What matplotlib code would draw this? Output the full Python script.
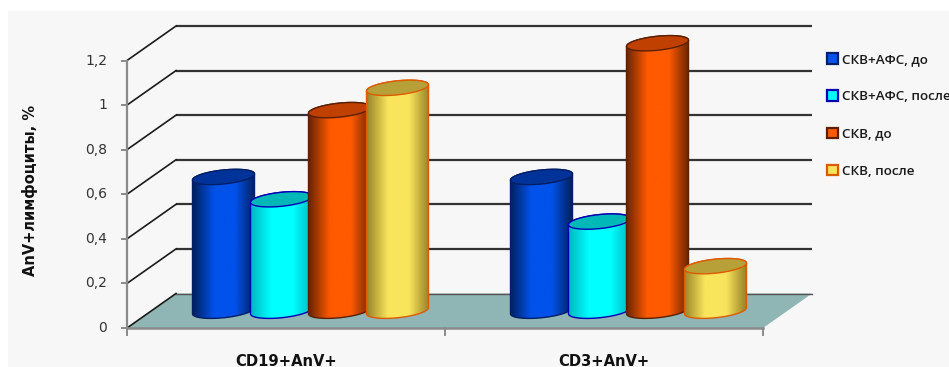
import numpy as np
import matplotlib
matplotlib.use("Agg")
import matplotlib.pyplot as plt
from matplotlib.colors import LinearSegmentedColormap
from matplotlib.patches import Rectangle, Polygon, PathPatch
from matplotlib.path import Path

categories = ["CD19+AnV+", "CD3+AnV+"]
series_names = ["СКВ+АФС, до", "СКВ+АФС, после", "СКВ, до", "СКВ, после"]
skv_afs_before = [0.6, 0.6]
skv_afs_after = [0.5, 0.4]
skv_before = [0.9, 1.2]
skv_after = [1.0, 0.2]
yticks = [0, 0.2, 0.4, 0.6, 0.8, 1.0, 1.2]
ytick_labels = ["0", "0,2", "0,4", "0,6", "0,8", "1", "1,2"]

# (side shade, centre, top cap, outline)
styles = [
    ("#00205f", "#0052ea", "#003399", "#001f66"),
    ("#00b4c0", "#00ffff", "#00b8b8", "#0000b4"),
    ("#6a2400", "#ff5a00", "#bf4000", "#5a2000"),
    ("#9a8428", "#f9e55c", "#b8a038", "#dd5a00"),
]

W, H = 949, 367
fig = plt.figure(figsize=(W / 100, H / 100), dpi=100, facecolor="white")
fig.patches.append(Rectangle((8 / W, 0), 1 - 8 / W, 1 - 11 / H, transform=fig.transFigure,
                             facecolor="#f7f7f7", edgecolor="none", zorder=-10))

LEFT, RIGHT, BOTTOM, TOP = 127, 763, 328, 60.5
px_x = 2 / (RIGHT - LEFT)         # category units per pixel
px_y = 1.2 / (BOTTOM - TOP)       # value units per pixel
depth_x, depth_y = 49 * px_x, 34.5 * px_y

# The axes fill the figure so that nothing drawn in the box gets cropped.
ax = fig.add_axes([0, 0, 1, 1])
ax.patch.set_alpha(0)
ax.set_axis_off()
view_x = (-LEFT * px_x, (W - LEFT) * px_x)
view_y = ((BOTTOM - H) * px_y, BOTTOM * px_y)

# floor of the box
ax.add_patch(Polygon([(0, 0), (2, 0), (2 + depth_x, depth_y), (depth_x, depth_y)],
                     closed=True, facecolor="#8fb5b5", edgecolor="none", clip_on=False, zorder=1))

# gridlines on the back wall and the left side wall
for v in yticks[1:]:
    ax.plot([depth_x, 2 + depth_x], [v + depth_y, v + depth_y], color="#333333", lw=1.6,
            clip_on=False, zorder=1.5, solid_capstyle="butt")
for v in yticks:
    ax.plot([0, depth_x], [v, v + depth_y], color="#1a1a1a", lw=1.2, clip_on=False, zorder=1.6)
ax.plot([depth_x, 2 + depth_x], [depth_y, depth_y], color="#555555", lw=1.0, clip_on=False, zorder=1.5)

# front axes
ax.plot([0, 0], [0, 1.2], color="#8a8a8a", lw=1.6, clip_on=False, zorder=2)
ax.plot([0, 2], [0, 0], color="#8a8a8a", lw=1.8, clip_on=False, zorder=2)
for v, lab in zip(yticks, ytick_labels):
    ax.plot([-5 * px_x, 0], [v, v], color="#8a8a8a", lw=1.4, clip_on=False, zorder=2)
    ax.text(-20 * px_x, v, lab, ha="right", va="center", fontsize=10, color="#333333",
            family="DejaVu Sans")
for x in [0, 1, 2]:
    ax.plot([x, x], [0, -7 * px_y], color="#8a8a8a", lw=1.4, clip_on=False, zorder=2)


def ellipse(cx, cy, t, half_w, minor=7.0, tilt=0.1):
    return (cx + half_w * np.cos(t),
            cy + (tilt * (half_w / px_x) * np.cos(t) + minor * np.sin(t)) * px_y)


def cylinder(cx, value, style, z):
    side, mid, cap, edge = style
    half_w = 31 * px_x
    base_y = depth_y / 2
    top_y = value + depth_y / 2
    cmap = LinearSegmentedColormap.from_list(
        "shade", [(0, side), (0.34, mid), (0.68, mid), (1, side)], N=128)
    lower = np.linspace(np.pi, 2 * np.pi, 60)
    upper = np.linspace(0, np.pi, 60)
    bx, by = ellipse(cx, base_y, lower, half_w)
    tx, ty = ellipse(cx, top_y, upper, half_w)
    verts = np.column_stack([np.r_[bx, tx, bx[0]], np.r_[by, ty, by[0]]])
    body = Path(verts, closed=True)
    grad = np.linspace(0, 1, 128)[None, :]
    im = ax.imshow(grad, cmap=cmap, aspect="auto", zorder=z, interpolation="bilinear",
                   extent=(cx - half_w, cx + half_w, by.min() - 0.01, ty.max() + 0.01))
    clip = PathPatch(body, transform=ax.transData, facecolor="none", edgecolor="none")
    ax.add_patch(clip)
    im.set_clip_path(clip)
    ax.add_patch(PathPatch(body, facecolor="none", edgecolor=edge, lw=1.0, zorder=z + 0.1,
                           clip_on=False))
    t = np.linspace(0, 2 * np.pi, 120)
    ex, ey = ellipse(cx, top_y, t, half_w)
    ax.fill(ex, ey, facecolor=cap, edgecolor=edge, lw=1.0, zorder=z + 0.2, clip_on=False)


all_series = [skv_afs_before, skv_afs_after, skv_before, skv_after]
step = 58 * px_x
first = 72 * px_x + depth_x / 2
z = 3
for i_cat in range(len(categories)):
    for i_s, values in enumerate(all_series):
        cylinder(i_cat + first + i_s * step, values[i_cat], styles[i_s], z)
        z += 1
ax.set_xlim(*view_x)
ax.set_ylim(*view_y)

# category labels and axis title
for i, name in enumerate(categories):
    ax.text(i + 0.5, -33 * px_y, name, ha="center", va="center", fontsize=10.6,
            fontweight="bold", color="#111111", family="DejaVu Sans", clip_on=False)
fig.text(30 / W, 1 - 190 / H, "AnV+лимфоциты, %", rotation=90, ha="center", va="center",
         fontsize=10.5, fontweight="bold", color="#111111", family="DejaVu Sans")

# legend
handles = [Rectangle((0, 0), 1, 1, facecolor=s[1], edgecolor=s[3], lw=1.6) for s in styles]
fig.legend(handles, series_names, loc="upper left", bbox_to_anchor=(827 / W, 1 - 53 / H),
           frameon=False, handlelength=0.82, handleheight=0.82, handletextpad=0.3,
           labelspacing=1.8, borderpad=0, borderaxespad=0,
           prop={"family": "Open Sans", "size": 9.7, "weight": "semibold"},
           labelcolor="#1a1a1a")

fig.savefig("out.png", dpi=100)
